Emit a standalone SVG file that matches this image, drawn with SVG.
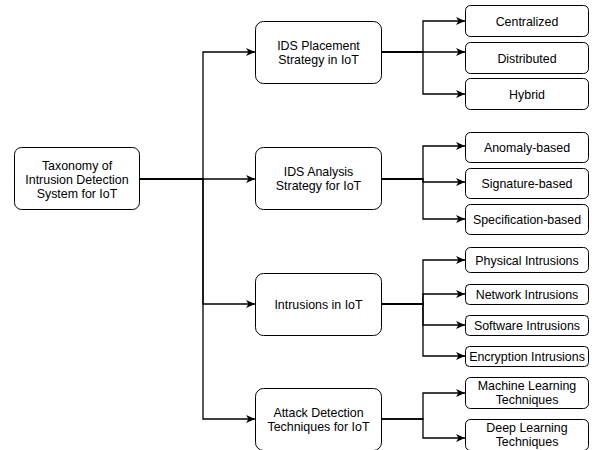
<svg xmlns="http://www.w3.org/2000/svg" width="592" height="450" viewBox="0 0 592 450">
<defs>
<marker id="arr" markerUnits="userSpaceOnUse" markerWidth="10" markerHeight="8" refX="9" refY="4" orient="auto">
<path d="M0,0 L9,4 L0,8 L2.5,4 Z" fill="#000"/>
</marker>
<style>
.box{fill:#fff;stroke:#000;stroke-width:1}
.t{font-family:"Liberation Sans",Arial,Helvetica,sans-serif;font-size:12.4px;fill:#000;text-anchor:middle}
.e{fill:none;stroke:#000;stroke-width:1.3;marker-end:url(#arr)}
</style>
</defs>
<rect width="592" height="450" fill="#fff"/>
<g id="connectors">
<path class="e" d="M140,179 H255"/>
<path class="e" d="M140,179 H203 V52 H255"/>
<path class="e" d="M140,179 H203 V304 H255"/>
<path class="e" d="M140,179 H203 V419 H255"/>
<path class="e" d="M382,52 H423 V21 H465"/>
<path class="e" d="M382,52 H465"/>
<path class="e" d="M382,52 H423 V94 H465"/>
<path class="e" d="M382,179 H423 V146 H465"/>
<path class="e" d="M382,179 H423 V182 H465"/>
<path class="e" d="M382,179 H423 V219 H465"/>
<path class="e" d="M382,304 H423 V260 H465"/>
<path class="e" d="M382,304 H423 V294 H465"/>
<path class="e" d="M382,304 H423 V325 H465"/>
<path class="e" d="M382,304 H423 V356 H465"/>
<path class="e" d="M382,419 H423 V393 H465"/>
<path class="e" d="M382,419 H423 V438 H465"/>
</g>
<g id="root">
<rect class="box" x="14.5" y="147.5" width="125" height="62" rx="7"/>
<text class="t" x="77" y="169.5">Taxonomy of</text>
<text class="t" x="77" y="183.5">Intrusion Detection</text>
<text class="t" x="77" y="197.5">System for IoT</text>
</g>
<g id="placement">
<rect class="box" x="255.5" y="21.5" width="126" height="62" rx="8"/>
<text class="t" x="318.5" y="49.5">IDS Placement</text>
<text class="t" x="318.5" y="63.5">Strategy in IoT</text>
</g>
<g id="analysis">
<rect class="box" x="255.5" y="147.5" width="126" height="62" rx="8"/>
<text class="t" x="318.5" y="175.5">IDS Analysis</text>
<text class="t" x="318.5" y="189.5">Strategy for IoT</text>
</g>
<g id="intrusions">
<rect class="box" x="255.5" y="273.5" width="126" height="62" rx="8"/>
<text class="t" x="318.5" y="308.5">Intrusions in IoT</text>
</g>
<g id="attack">
<rect class="box" x="255.5" y="388.5" width="126" height="62" rx="8"/>
<text class="t" x="318.5" y="416.5">Attack Detection</text>
<text class="t" x="318.5" y="430.5">Techniques for IoT</text>
</g>
<g id="centralized">
<rect class="box" x="465.5" y="5.5" width="123" height="31" rx="5"/>
<text class="t" x="527" y="25.5">Centralized</text>
</g>
<g id="distributed">
<rect class="box" x="465.5" y="42.5" width="123" height="31" rx="5"/>
<text class="t" x="527" y="62.5">Distributed</text>
</g>
<g id="hybrid">
<rect class="box" x="465.5" y="78.5" width="123" height="31" rx="5"/>
<text class="t" x="527" y="98.5">Hybrid</text>
</g>
<g id="anomaly">
<rect class="box" x="465.5" y="132.5" width="123" height="30" rx="5"/>
<text class="t" x="527" y="151.5">Anomaly-based</text>
</g>
<g id="signature">
<rect class="box" x="465.5" y="168.5" width="123" height="30" rx="5"/>
<text class="t" x="527" y="187.5">Signature-based</text>
</g>
<g id="specification">
<rect class="box" x="465.5" y="204.5" width="123" height="30" rx="5"/>
<text class="t" x="527" y="223.5">Specification-based</text>
</g>
<g id="physical">
<rect class="box" x="465.5" y="247.5" width="123" height="25" rx="5"/>
<text class="t" x="527" y="264.5">Physical Intrusions</text>
</g>
<g id="network">
<rect class="box" x="465.5" y="284.5" width="123" height="20" rx="4"/>
<text class="t" x="527" y="298.8">Network Intrusions</text>
</g>
<g id="software">
<rect class="box" x="465.5" y="315.5" width="123" height="20" rx="4"/>
<text class="t" x="527" y="329.8">Software Intrusions</text>
</g>
<g id="encryption">
<rect class="box" x="465.5" y="346.5" width="123" height="20" rx="4"/>
<text class="t" x="527" y="360.8">Encryption Intrusions</text>
</g>
<g id="ml">
<rect class="box" x="465.5" y="377.5" width="123" height="31" rx="5"/>
<text class="t" x="527" y="389.5">Machine Learning</text>
<text class="t" x="527" y="403.5">Techniques</text>
</g>
<g id="dl">
<rect class="box" x="465.5" y="419.5" width="123" height="31" rx="5"/>
<text class="t" x="527" y="431.5">Deep Learning</text>
<text class="t" x="527" y="445.5">Techniques</text>
</g>
</svg>
